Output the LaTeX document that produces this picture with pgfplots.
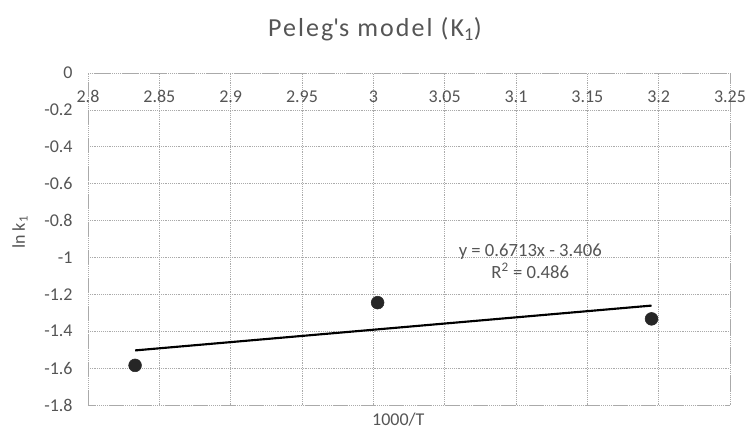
\documentclass[border=0pt]{standalone}
\usepackage{pgfplots}
\pgfplotsset{compat=1.18}
\usepackage{fontspec}
\setmainfont{Carlito}
\definecolor{txt}{HTML}{555555}
\definecolor{grd}{HTML}{AAAAAA}
\begin{document}
\begin{tikzpicture}
\begin{axis}[
  at={(0,0)}, anchor=south west,
  scale only axis,
  width=481.5pt, height=249pt,
  xmin=2.8, xmax=3.25, ymin=-1.8, ymax=0,
  xtick={2.8,2.85,...,3.25},
  ytick={-1.8,-1.6,...,0},
  xticklabels={2.8,2.85,2.9,2.95,3,3.05,3.1,3.15,3.2,3.25},
  yticklabels={-1.8,-1.6,-1.4,-1.2,-1,-0.8,-0.6,-0.4,-0.2,0},
  xticklabel pos=upper,
  xticklabel style={anchor=north, yshift=-9.5pt},
  yticklabel style={xshift=-8pt},
  tick style={draw=none},
  grid=major,
  grid style={grd, densely dotted, line width=0.5pt},
  axis line style={grd, densely dotted, line width=0.5pt},
  ticklabel style={font=\fontsize{13.5}{15}\selectfont, text=txt},
  /pgf/number format/assume math mode=true,
  xlabel={1000/T},
  xlabel style={font=\fontsize{13.5}{15}\selectfont, text=txt, at={(axis description cs:0.5,0)}, anchor=center, yshift=-11pt, xshift=-8pt},
  ylabel={ln k\textsubscript{1}},
  ylabel style={font=\fontsize{13.5}{15}\selectfont, text=txt, at={(axis description cs:-0.106,0.52)}, anchor=center},
  title={\addfontfeature{LetterSpace=8}Peleg\textquotesingle s model (K\textsubscript{1})},
  title style={font=\fontsize{19.5}{22}\selectfont, text=txt, at={(axis description cs:0.5,1)}, anchor=center, yshift=27pt, xshift=-25.5pt},
  clip=false,
]
\addplot[only marks, mark=*, mark size=4.8pt, black!85] coordinates {
  (2.833,-1.585) (3.003,-1.245) (3.195,-1.333)
};
\addplot[black, line width=1.6pt] coordinates {
  (2.833,-1.504) (3.195,-1.261)
};
\node[font=\fontsize{14}{16}\selectfont, text=txt, align=center] at (axis cs:3.11,-1.02) {y = 0.6713x - 3.406\\[1pt] R\textsuperscript{2} = 0.486};
\end{axis}
\pgfresetboundingbox
\path[use as bounding box] (-66pt,-21pt) rectangle (495pt,303.75pt);
\end{tikzpicture}
\end{document}
